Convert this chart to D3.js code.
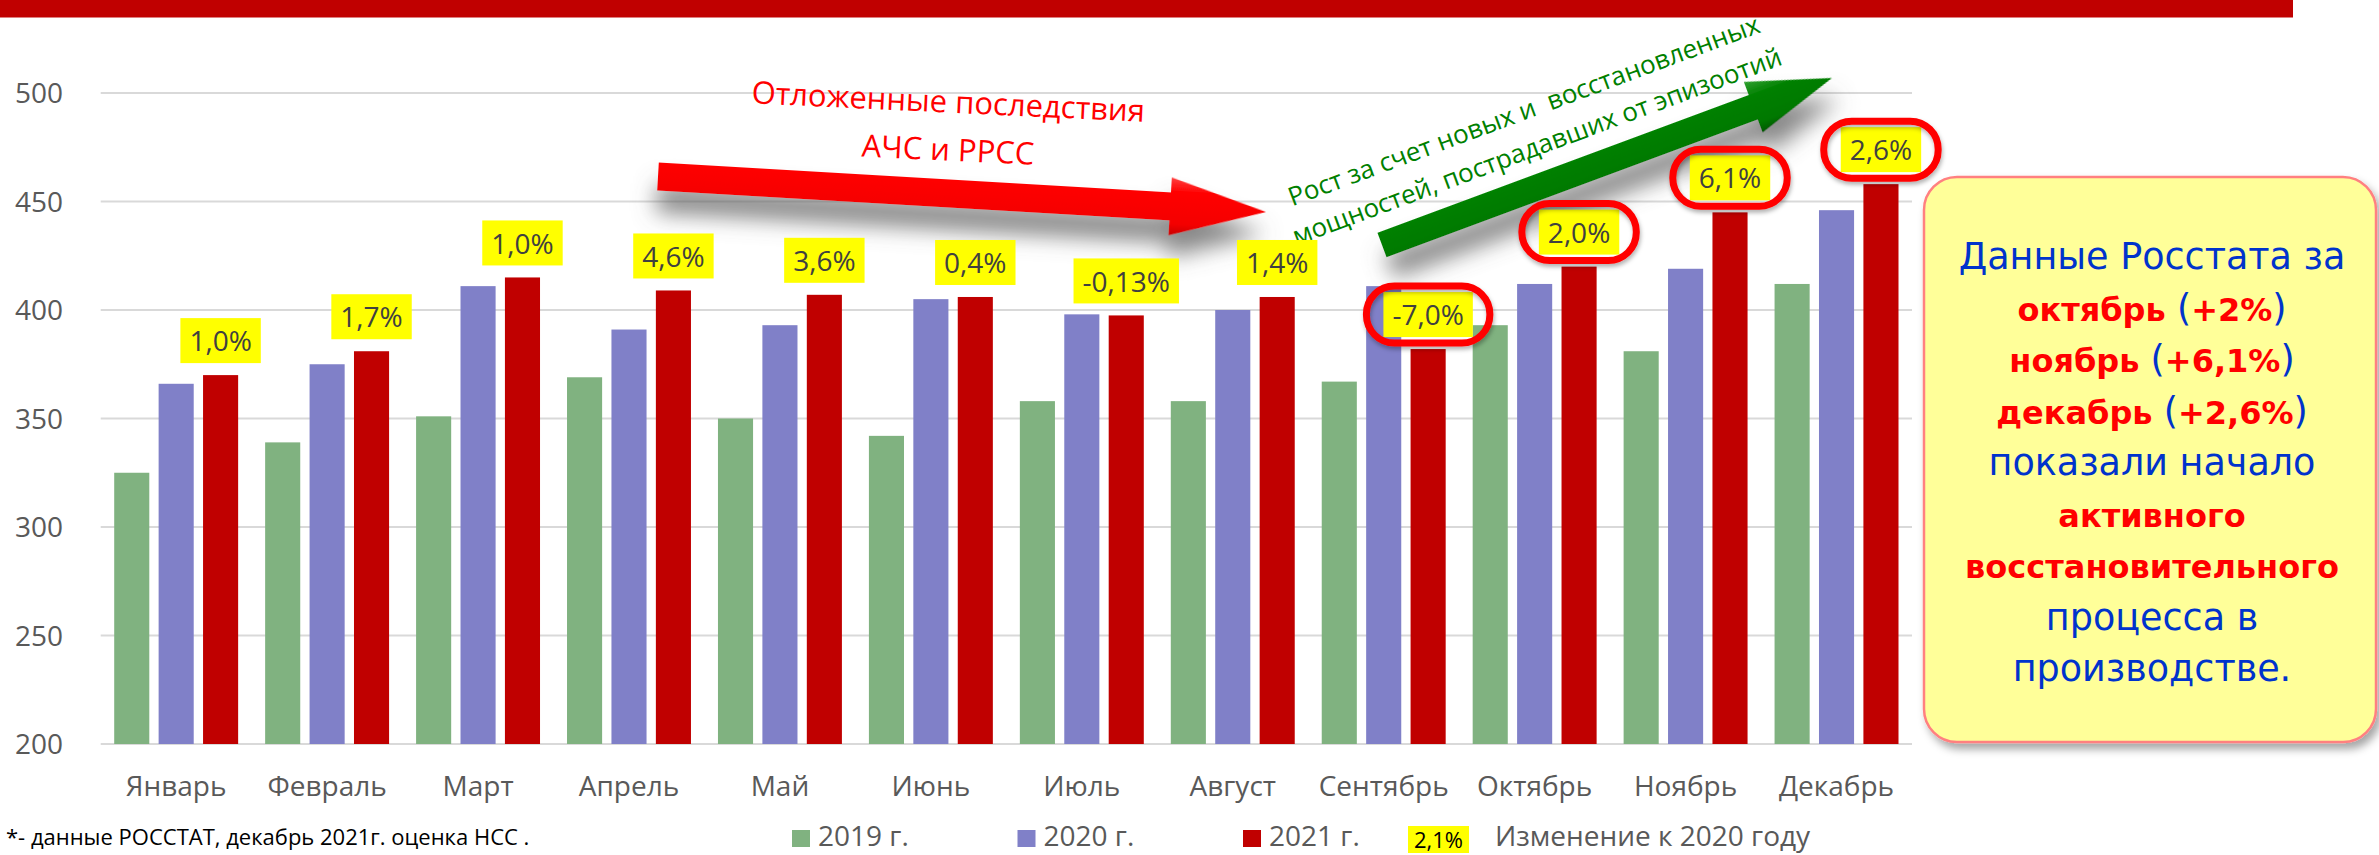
<!DOCTYPE html>
<html lang="ru">
<head>
<meta charset="UTF-8">
<title>Производство по месяцам</title>
<script src="https://cdn.jsdelivr.net/npm/d3@7"></script>
<style>
  html, body { margin: 0; padding: 0; background: #fff; }
  svg { display: block; font-family: "Open Sans", sans-serif; }
  .tick-label { fill: #595959; font-size: 28px; }
  .grid { stroke: #D9D9D9; stroke-width: 2; }
</style>
</head>
<body>
<svg width="2379" height="855"></svg>
<script>
const months = ["Январь", "Февраль", "Март", "Апрель", "Май", "Июнь", "Июль",
                "Август", "Сентябрь", "Октябрь", "Ноябрь", "Декабрь"];
const seriesNames = ["2019 г.", "2020 г.", "2021 г."];
const values2019 = [325, 339, 351, 369, 350, 342, 358, 358, 367, 393, 381, 412];
const values2020 = [366, 375, 411, 391, 393, 405, 398, 400, 411, 412, 419, 446];
const values2021 = [370, 381, 415, 409, 407, 406, 397.5, 406, 382, 420, 445, 458];
const changeLabels = ["1,0%", "1,7%", "1,0%", "4,6%", "3,6%", "0,4%", "-0,13%",
                      "1,4%", "-7,0%", "2,0%", "6,1%", "2,6%"];
const highlighted = ["Сентябрь", "Октябрь", "Ноябрь", "Декабрь"];
const yTicks = [200, 250, 300, 350, 400, 450, 500];

const colors = ["#80B280", "#8080C8", "#C00000"];
const seriesValues = [values2019, values2020, values2021];

const svg = d3.select("svg");

const defs = svg.append("defs");

// soft grey shadow under arrows
const sh = defs.append("filter").attr("id", "arrowShadow")
  .attr("x", "-20%").attr("y", "-150%").attr("width", "140%").attr("height", "400%");
sh.append("feGaussianBlur").attr("in", "SourceAlpha").attr("stdDeviation", 11).attr("result", "b");
sh.append("feOffset").attr("in", "b").attr("dx", 0).attr("dy", 22).attr("result", "o");
sh.append("feFlood").attr("flood-color", "#606060").attr("flood-opacity", 0.75);
sh.append("feComposite").attr("in2", "o").attr("operator", "in").attr("result", "s");
const shm = sh.append("feMerge");
shm.append("feMergeNode").attr("in", "s");
shm.append("feMergeNode").attr("in", "SourceGraphic");

const bs = defs.append("filter").attr("id", "boxShadow")
  .attr("x", "-10%").attr("y", "-10%").attr("width", "130%").attr("height", "130%");
bs.append("feDropShadow").attr("dx", 4).attr("dy", 6).attr("stdDeviation", 4)
  .attr("flood-color", "#000").attr("flood-opacity", 0.35);

const rs = defs.append("filter").attr("id", "ringShadow")
  .attr("x", "-20%").attr("y", "-20%").attr("width", "140%").attr("height", "150%");
rs.append("feDropShadow").attr("dx", 1).attr("dy", 3).attr("stdDeviation", 2)
  .attr("flood-color", "#000").attr("flood-opacity", 0.3);

function grad(id, stops) {
  const g = defs.append("linearGradient").attr("id", id)
    .attr("x1", 0).attr("y1", 0).attr("x2", 0).attr("y2", 1);
  stops.forEach(s => g.append("stop").attr("offset", s[0]).attr("stop-color", s[1]));
}
grad("redGrad", [[0, "#FF4040"], [0.25, "#FF0000"], [0.8, "#F40000"], [1, "#C80000"]]);
grad("greenGrad", [[0, "#30A030"], [0.3, "#008000"], [0.8, "#007800"], [1, "#005800"]]);

// header strip
svg.append("rect").attr("x", 0).attr("y", 0).attr("width", 2293).attr("height", 17.5)
  .attr("fill", "#C00000");

// scales
const y = d3.scaleLinear().domain([200, 500]).range([744, 93]);
const x0 = d3.scaleBand().domain(months).range([100.7, 1912]).padding(0);
const x1 = d3.scaleBand().domain(seriesNames).range([13.5, x0.bandwidth() - 13.5]).paddingInner(0.21);

// grid + y labels
svg.append("g").selectAll("line").data(yTicks).join("line")
  .attr("class", "grid")
  .attr("x1", 100.7).attr("x2", 1912)
  .attr("y1", d => y(d)).attr("y2", d => y(d));

svg.append("g").selectAll("text").data(yTicks).join("text")
  .attr("class", "tick-label")
  .attr("x", 63).attr("y", d => y(d)).attr("dy", "0.36em")
  .attr("text-anchor", "end")
  .text(d => d);

// bars
const rows = months.map((m, i) => ({ month: m, vals: seriesValues.map((s, k) => ({ name: seriesNames[k], v: s[i], k })) }));
const groups = svg.append("g").selectAll("g").data(rows).join("g")
  .attr("transform", d => `translate(${x0(d.month)},0)`);
groups.selectAll("rect").data(d => d.vals).join("rect")
  .attr("x", d => x1(d.name))
  .attr("width", x1.bandwidth())
  .attr("y", d => y(d.v))
  .attr("height", d => y(200) - y(d.v))
  .attr("fill", d => colors[d.k]);

// month labels
svg.append("g").selectAll("text").data(months).join("text")
  .attr("class", "tick-label")
  .attr("x", d => x0(d) + x0.bandwidth() / 2)
  .attr("y", 796)
  .attr("text-anchor", "middle")
  .text(d => d);

// arrows
function arrowPath(len, sw, hw, hl) {
  return `M0,${-sw / 2}L${len - hl},${-sw / 2}L${len - hl},${-hw / 2}L${len},0` +
         `L${len - hl},${hw / 2}L${len - hl},${sw / 2}L0,${sw / 2}Z`;
}
function drawArrow(xa, ya, xb, yb, sw, hw, hl, fill) {
  const len = Math.hypot(xb - xa, yb - ya);
  const ang = Math.atan2(yb - ya, xb - xa) * 180 / Math.PI;
  svg.append("path")
    .attr("transform", `translate(${xa},${ya}) rotate(${ang})`)
    .attr("d", arrowPath(len, sw, hw, hl))
    .attr("fill", fill)
    .attr("filter", "url(#arrowShadow)");
}
drawArrow(658, 176.5, 1266, 212, 28, 58, 96, "url(#redGrad)");
drawArrow(1382, 245, 1832, 78, 26, 54, 84, "url(#greenGrad)");

// arrow captions
const redCap = svg.append("g").attr("transform", "translate(745,103) rotate(2.7)")
  .attr("fill", "#FF0000").attr("font-size", 31).attr("text-anchor", "middle");
redCap.append("text").attr("x", 203).attr("y", 0).text("Отложенные последствия");
redCap.append("text").attr("x", 205).attr("y", 48).text("АЧС и РРСС");

const greenCap = svg.append("g").attr("transform", "translate(1272,214) rotate(-20.4)")
  .attr("fill", "#008000").attr("font-size", 26).attr("text-anchor", "middle");
greenCap.append("text").attr("x", 272).attr("y", 0).attr("xml:space", "preserve")
  .text("Рост за счет новых и  восстановленных");
greenCap.append("text").attr("x", 272).attr("y", 38).text("мощностей, пострадавших от эпизоотий");

// change labels above 2021 bars
const redName = seriesNames[2];
const lab = svg.append("g").selectAll("g").data(months).join("g")
  .attr("transform", (d, i) => `translate(${x0(d) + x1(redName) + x1.bandwidth() / 2},${y(values2021[i]) - 12})`);
lab.append("rect").attr("class", "lbox").attr("fill", "#FFFF00");
lab.append("text")
  .attr("y", -22).attr("dy", "0.36em")
  .attr("text-anchor", "middle")
  .attr("font-size", 28).attr("fill", "#404040")
  .text((d, i) => changeLabels[i]);
lab.each(function () {
  const g = d3.select(this);
  const w = g.select("text").node().getComputedTextLength() + 18;
  g.select("rect").attr("x", -w / 2).attr("y", -45).attr("width", w).attr("height", 45);
  if (highlighted.includes(g.datum())) {
    g.append("rect")
      .attr("x", -w / 2 - 17).attr("y", -51).attr("width", w + 34).attr("height", 57)
      .attr("rx", 28).attr("ry", 28)
      .attr("fill", "none").attr("stroke", "#FF0000").attr("stroke-width", 7)
      .attr("filter", "url(#ringShadow)");
  }
});

// note box
svg.append("rect")
  .attr("x", 1924).attr("y", 177).attr("width", 452).attr("height", 565)
  .attr("rx", 33).attr("ry", 33)
  .attr("fill", "#FFFF99").attr("stroke", "#FF8080").attr("stroke-width", 2.5)
  .attr("filter", "url(#boxShadow)");

const blue = "#0033CC", red = "#FF0000";
const noteLines = [
  [["Данные Росстата за", blue, false]],
  [["октябрь ", red, true], ["(", blue, false], ["+2%", red, true], [")", blue, false]],
  [["ноябрь ", red, true], ["(", blue, false], ["+6,1%", red, true], [")", blue, false]],
  [["декабрь ", red, true], ["(", blue, false], ["+2,6%", red, true], [")", blue, false]],
  [["показали начало", blue, false]],
  [["активного", red, true]],
  [["восстановительного", red, true]],
  [["процесса в", blue, false]],
  [["производстве.", blue, false]]
];
const note = svg.append("g").attr("font-family", "'DejaVu Sans', Verdana, sans-serif");
noteLines.forEach((parts, i) => {
  const t = note.append("text")
    .attr("x", 2152).attr("y", 269 + i * 51.5)
    .attr("text-anchor", "middle").attr("xml:space", "preserve");
  parts.forEach(p => {
    t.append("tspan").attr("fill", p[1])
      .attr("font-weight", p[2] ? "bold" : "normal")
      .attr("font-size", p[2] ? 32 : 36.5)
      .text(p[0]);
  });
});

// footnote
svg.append("text").attr("x", 6).attr("y", 845)
  .attr("font-size", 22).attr("fill", "#000")
  .text("*- данные РОССТАТ, декабрь 2021г. оценка НСС .");

// legend
const leg = svg.append("g");
seriesNames.forEach((s, k) => {
  const lx = 792 + k * 225.5;
  leg.append("rect").attr("x", lx).attr("y", 830).attr("width", 18).attr("height", 17).attr("fill", colors[k]);
  leg.append("text").attr("class", "tick-label").attr("x", lx + 26).attr("y", 846).text(s);
});
leg.append("rect").attr("x", 1408).attr("y", 826).attr("width", 61).attr("height", 27).attr("fill", "#FFFF00");
leg.append("text").attr("x", 1438.5).attr("y", 848).attr("text-anchor", "middle")
  .attr("font-size", 22).attr("fill", "#000").text("2,1%");
leg.append("text").attr("class", "tick-label").attr("x", 1495).attr("y", 846)
  .text("Изменение к 2020 году");
</script>
</body>
</html>
